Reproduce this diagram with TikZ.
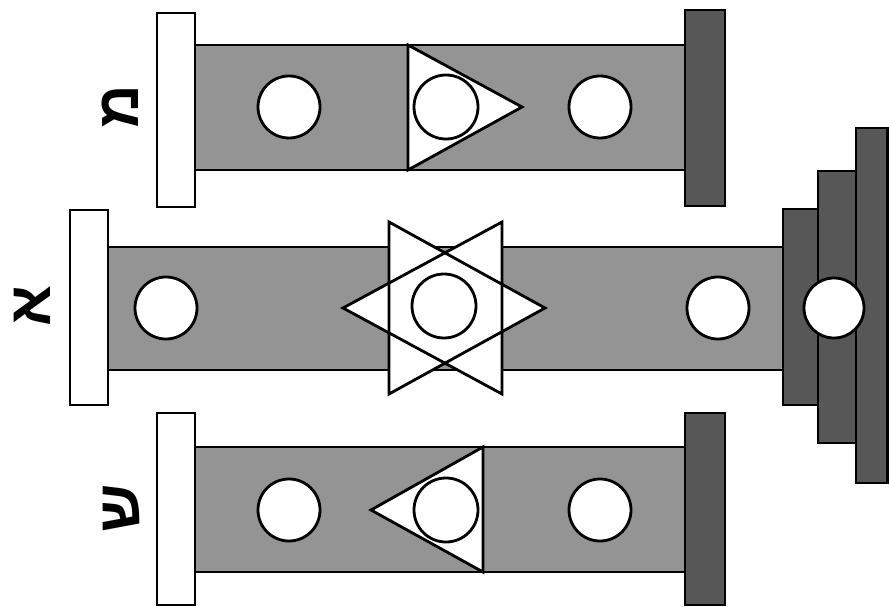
\documentclass[tikz,border=0pt]{standalone}
\usepackage{fontspec}
\newfontfamily\hebfont[Script=Hebrew]{Liberation Sans}
\TeXXeTstate=1
\begin{document}
\begin{tikzpicture}[x=1pt,y=-1pt,
  line width=2.8pt, line join=miter,
  bar/.style={draw=black, fill=black!42},
  plate/.style={draw=black, fill=white},
  darkplate/.style={draw=black, fill=black!66},
  hole/.style={draw=black, fill=white},
  tri/.style={draw=black, fill=white},
  lbl/.style={font=\hebfont\bfseries\fontsize{60}{60}\selectfont, rotate=90, inner sep=0pt}]
\useasboundingbox (0,0) rectangle (889,607);
% top row
\draw[bar] (195,45) rectangle (685,170);
\draw[plate] (157,13) rectangle (195,207);
\draw[darkplate] (685,10) rectangle (725,206);
\draw[tri] (408,45) -- (408,170) -- (522,107) -- cycle;
\draw[hole] (289,107) circle (31);
\draw[hole] (446,107) circle (32);
\draw[hole] (600,107) circle (31);
% middle row
\draw[bar] (108,247) rectangle (785,370);
\draw[plate] (70,210) rectangle (108,405);
\draw[darkplate] (856,128) rectangle (887.5,483);
\draw[darkplate] (818,171) rectangle (856,443);
\draw[darkplate] (783,209) rectangle (818,405);
\fill[white] (389,222) -- (389,394) -- (545,308) -- cycle;
\fill[white] (502,222) -- (502,394) -- (343,308) -- cycle;
\draw (389,222) -- (389,394) -- (545,308) -- cycle;
\draw (502,222) -- (502,394) -- (343,308) -- cycle;
\draw[hole] (166,308) circle (31);
\draw[hole] (444,306) circle (32);
\draw[hole] (718,308) circle (31);
\draw[hole] (834,308) circle (30);
% bottom row
\draw[bar] (195,447) rectangle (685,572);
\draw[plate] (157,413) rectangle (195,605);
\draw[darkplate] (685,413) rectangle (725,605);
\draw[tri] (483,447) -- (483,572) -- (371,510) -- cycle;
\draw[hole] (289,510) circle (31);
\draw[hole] (446,510) circle (32);
\draw[hole] (600,510) circle (31);
% labels
\node[lbl] (mem) at (120,107) {\beginR מ\endR};
\node[lbl] (aleph) at (32,306) {\beginR א\endR};
\node[lbl] (shin) at (121,508) {\beginR ש\endR};
\end{tikzpicture}
\end{document}
